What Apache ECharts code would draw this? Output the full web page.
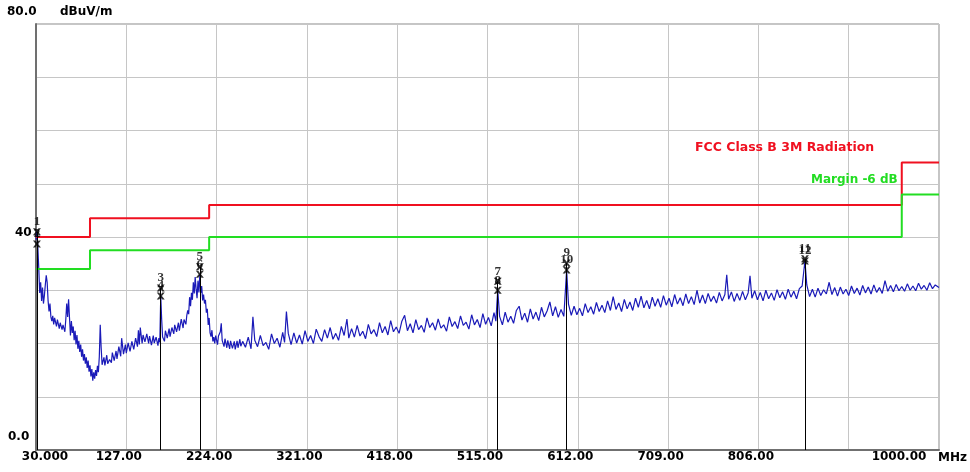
<!DOCTYPE html>
<html><head><meta charset="utf-8">
<script src="https://cdn.jsdelivr.net/npm/echarts@6/dist/echarts.min.js"></script>
<style>html,body{margin:0;padding:0;background:#fff}#c{width:970px;height:472px}</style>
</head><body><div id="c"></div>
<script>
const xTickLabels = ['30.000','127.00','224.00','321.00','418.00','515.00','612.00','709.00','806.00','903.00','1000.00'];
const yTickValues = [0, 40, 80];
const yTickLabels = ['0.0', '40', '80.0'];

const limitFreq   = [30, 88, 216, 960, 1000];
const limitLevel  = [40, 43.5, 46, 54, 54];
const marginLevel = [34, 37.5, 40, 48, 48];

const markerNum   = ['1','2','3','4','5','6','7','8','9','10','11','12'];
const markerFreq  = [31, 31, 164, 164, 206, 206, 526, 526, 600, 600, 856, 856];
const markerLevel = [41.0, 38.7, 30.4, 28.9, 34.4, 33.0, 31.7, 30.0, 35.1, 33.8, 35.9, 35.5];

const traceData = [
[30,39.5],[31,41.0],[32,38],[33,34],[34,29.5],[35,31.5],[36,28],[37,30.5],[38,27.5],[39,29],[40,31],[41,32.8],[42,31.5],[43,28],[44,26],[45,27.5],[46,25],[47,24.2],[48,25.2],[49,23.6],[50,24.8],[52,23.2],[53,24.5],[55,22.8],[56,23.9],[58,22.6],[59,23.5],[61,22.2],[62,24.5],[63,27.5],[64,25],[65,28.3],
[66,24.8],[67,21.5],[68,24.2],[69,22.0],[70,23.2],[71,20.6],[72,22.4],[73,19.8],[74,21.6],[75,19.0],[76,20.5],[77,18.4],[78,19.8],[79,17.5],[80,18.9],[81,16.8],[82,18.0],[83,16.2],[84,17.4],[85,15.4],[86,16.8],[87,14.7],[88,15.9],[89,13.8],[90,15.2],[91,13.0],[92,14.6],[93,13.4],[94,15.0],[95,13.9],[96,15.8],[97,14.6],[98,17.5],[99,23.5],[100,19.2],
[101,16.0],[103,17.4],[104,15.9],[106,17.8],[107,16.2],[109,17.0],[111,16.4],[112,18.3],[114,16.8],[116,18.6],[117,17.1],[119,19.4],[121,17.6],[122,21.0],[124,18.0],[126,19.8],[127,18.2],[129,20.1],[131,18.5],[133,20.4],[135,18.9],[137,21.0],[139,19.4],[140,22.5],[141,19.8],[142,23.0],[144,20.0],[145,21.6],[147,20.3],[149,21.8],[151,20.0],[152,21.4],[154,19.7],[156,21.5],[157,20.1],[159,21.2],[161,19.6],[162,21.0],[163,20.2],[164,28.9],[165,24.5],
[166,21.2],[168,20.4],[169,22.4],[171,21.0],[173,22.8],[174,21.3],[176,23.0],[178,21.8],[179,23.5],[181,22.2],[183,23.9],[184,22.4],[186,24.6],[188,22.9],[189,24.5],[191,23.6],[192,25.3],[193,26.2],[194,25.5],[195,28.7],[196,27],[197,29.5],[198,28.2],[199,31.5],[200,29.4],[201,32.5],[202,30.2],[203,28.5],[204,31.8],[205,29.6],[206,33.0],[207,29.5],[208,30.8],[209,28.1],[210,29.2],[211,27.5],[212,28.2],[213,25.8],[214,26.5],[215,23.5],[216,24.8],[217,22],[218,21.3],[219,22.5],[220,20.4],[221,21.2],[222,20.0],[223,21.5],[225,19.8],[226,21.4],[228,22.2],[229,23.8],[230,20.6],[232,19.4],[233,20.9],[235,19.2],[236,20.6],[238,19.0],[239,20.5],[241,19.1],[243,20.4],[244,18.9],[246,20.5],[247,19.2],[249,20.8],[250,19.5],
[252,20.4],[255,19.3],[258,21.2],[261,19.0],[263,25.0],[265,20.6],[268,19.4],[271,21.5],[274,19.6],[277,20.2],[280,18.9],[283,21.8],[286,20.0],[289,21.0],[292,19.3],[295,22.1],[297,20.2],[299,26.0],[301,21.9],[304,19.8],[307,22.0],[310,20.1],[313,21.6],[316,19.9],[319,22.4],[322,20.4],[325,21.5],[328,20.0],[331,22.7],[334,21.3],[337,20.4],[340,22.6],[343,21.0],[346,23.0],[349,20.8],[352,21.9],[355,20.6],[358,23.2],[361,21.5],[364,24.6],[366,21.0],[369,22.8],[372,21.2],[375,23.4],[378,21.4],[381,22.3],[384,20.9],[387,23.6],[390,21.8],[393,22.6],[396,21.3],[399,23.9],[402,22.0],[405,23.2],[408,21.6],[411,24.3],[414,22.2],[417,23.1],[420,21.9],[423,24.2],[426,25.3],[429,22.4],[432,23.7],[435,22.0],[438,24.5],[441,22.6],[444,23.4],[447,22.1],[450,24.8],[453,23.0],[456,23.9],[459,22.5],[462,24.6],[465,22.9],[468,23.5],[471,22.3],[474,25.0],[477,23.2],[480,24.1],[483,22.8],[486,25.2],[489,23.4],[492,24.0],[495,22.7],[498,25.4],[501,23.5],[504,24.5],[507,23.0],[510,25.6],[513,23.6],[516,24.9],[519,23.3],[522,25.8],[524,24.2],[526,30.0],[528,25.1],[531,23.5],[534,25.9],[537,24.0],[540,25.1],[543,23.8],[546,26.2],[549,27.0],[552,24.4],[555,25.7],[558,24.0],[561,26.5],[564,24.6],[567,25.9],[570,24.3],[573,26.8],[576,25.0],[579,26.1],[582,27.8],[585,25.2],[588,26.9],[591,24.9],[594,26.4],[597,25.1],[600,33.8],[602,27.4],[605,25.3],[608,27.0],[611,25.4],[614,26.6],[617,25.2],[620,27.5],[623,25.8],[626,26.9],[629,25.5],[632,27.7],[635,26.0],[638,27.2],[641,25.8],[644,28.0],[647,26.2],[650,28.8],[653,26.4],[656,27.6],[659,26.0],[662,28.3],[665,26.5],[668,27.8],[671,26.2],[674,28.5],[677,26.8],[680,28.9],[683,26.7],[686,28.1],[689,26.5],[692,28.7],[695,27.0],[698,28.4],[701,26.8],[704,29.0],[707,27.2],[710,28.5],[713,26.9],[716,29.2],[719,27.4],[722,28.6],[725,27.1],[728,29.3],[731,27.5],[734,28.8],[737,27.3],[740,30.0],[743,27.6],[746,29.1],[749,27.5],[752,29.4],[755,27.9],[758,28.9],[761,27.6],[764,29.6],[767,28.0],[770,29.2],[772,32.9],[774,28.3],[777,29.7],[780,27.9],[783,29.4],[786,28.1],[789,29.8],[792,28.2],[795,29.5],[797,32.7],[799,28.5],[802,29.9],[805,28.2],[808,29.6],[811,28.0],[814,30.0],[817,28.4],[820,29.5],[823,28.1],[826,30.1],[829,28.6],[832,29.7],[835,28.3],[838,30.2],[841,28.7],[844,29.8],[847,28.4],[850,30.3],[853,30.8],[856,35.5],[858,31.0],[861,28.8],[864,30.2],[867,28.7],[870,30.4],[873,29.0],[876,30.1],[879,29.3],[882,31.5],[885,29.2],[888,30.5],[891,28.9],[894,30.6],[897,29.3],[900,30.2],[903,29.0],[906,30.8],[909,29.4],[912,30.4],[915,29.1],[918,30.9],[921,29.5],[924,30.6],[927,29.3],[930,31.0],[933,29.6],[936,30.5],[939,29.4],[942,31.8],[945,29.8],[948,30.9],[951,29.7],[954,31.1],[957,29.9],[960,30.7],[963,29.8],[966,31.2],[969,30.0],[972,30.8],[975,29.9],[978,31.3],[981,30.2],[984,30.9],[987,30.0],[990,31.4],[993,30.3],[996,31.0],[1000,30.5]
];

const chart = echarts.init(document.getElementById('c'));
const FONT = 'DejaVu Sans';
const xPos = v => Math.round((v - 30) / 97);

chart.setOption({
  animation: false,
  backgroundColor: '#ffffff',
  grid: { left: 36, right: 31, top: 24, bottom: 22, show: true, borderColor: '#8a8a8a', borderWidth: 1 },
  xAxis: {
    type: 'value', min: 30, max: 1000, interval: 97,
    name: 'MHz', nameLocation: 'end', nameGap: -1,
    nameTextStyle: { fontFamily: FONT, fontWeight: 'bold', fontSize: 12, color: '#000', verticalAlign: 'top', align: 'left', padding: [2, 0, 0, 0] },
    axisLine: { show: true, onZero: false, lineStyle: { color: '#707070', width: 2 } },
    axisTick: { show: false },
    splitLine: { show: true, lineStyle: { color: '#c6c6c6', width: 1 } },
    axisLabel: {
      margin: 1, color: '#000', fontFamily: FONT, fontWeight: 'bold', fontSize: 12,
      formatter: v => {
        const i = xPos(v);
        if (i === 0) return '{m|' + xTickLabels[i] + '}';
        if (i === xTickLabels.length - 1) return '{e|' + xTickLabels[i] + '}';
        return i === 9 ? '' : '{n|' + xTickLabels[i] + '}';
      },
      rich: {
        m: { fontFamily: FONT, fontWeight: 'bold', fontSize: 12, color: '#000', padding: [0, 0, 0, 18] },
        n: { fontFamily: FONT, fontWeight: 'bold', fontSize: 12, color: '#000', padding: [0, 15, 0, 0] },
        e: { fontFamily: FONT, fontWeight: 'bold', fontSize: 12, color: '#000', padding: [0, 80, 0, 0] }
      }
    }
  },
  yAxis: {
    type: 'value', min: 0, max: 80, interval: 10,
    name: 'dBuV/m', nameLocation: 'end', nameGap: 12,
    nameTextStyle: { fontFamily: FONT, fontWeight: 'bold', fontSize: 12, color: '#000', align: 'left', verticalAlign: 'middle', padding: [0, 0, 0, 24] },
    axisLine: { show: true, lineStyle: { color: '#707070', width: 2 } },
    axisTick: { show: false },
    splitLine: { show: true, lineStyle: { color: '#c6c6c6', width: 1 } },
    axisLabel: {
      align: 'left', margin: 29, color: '#000',
      formatter: v => {
        const i = yTickValues.indexOf(v);
        if (i < 0) return '';
        return '{l' + i + '|' + yTickLabels[i] + '}';
      },
      rich: {
        l0: { fontFamily: FONT, fontWeight: 'bold', fontSize: 12, color: '#000', padding: [0, 0, 26, 1] },
        l1: { fontFamily: FONT, fontWeight: 'bold', fontSize: 12, color: '#000', padding: [0, 0, 8, 8] },
        l2: { fontFamily: FONT, fontWeight: 'bold', fontSize: 12, color: '#000', padding: [0, 0, 24, 0] }
      }
    }
  },
  graphic: [
    { type: 'text', left: 695, top: 141, style: { text: 'FCC Class B 3M Radiation', fill: '#f01020', font: 'bold 12.5px "DejaVu Sans"' }, z: 10 },
    { type: 'text', left: 811, top: 174, style: { text: 'Margin -6 dB', fill: '#22dd22', font: 'bold 12px "DejaVu Sans"' }, z: 10 }
  ],
  series: [
    {
      type: 'line', name: 'trace', data: traceData, showSymbol: false, symbol: 'none',
      lineStyle: { color: '#1a1ab8', width: 1.2 }, z: 3, silent: true
    },
    {
      type: 'line', name: 'FCC Class B 3M Radiation', step: 'end',
      data: limitFreq.map((f, i) => [f, limitLevel[i]]), symbol: 'none',
      lineStyle: { color: '#f01020', width: 2 }, z: 4, silent: true
    },
    {
      type: 'line', name: 'Margin -6 dB', step: 'end',
      data: limitFreq.map((f, i) => [f, marginLevel[i]]), symbol: 'none',
      lineStyle: { color: '#22dd22', width: 2 }, z: 4, silent: true
    },
    {
      type: 'scatter', name: 'markers',
      data: markerFreq.map((f, i) => [f, markerLevel[i]]),
      symbol: 'path://M0,0H3L5,3L7,0H10L6.5,5L10,10H7L5,7L3,10H0L3.5,5Z',
      symbolSize: [8, 7],
      itemStyle: { color: '#000' },
      label: {
        show: true, position: 'top', distance: 0,
        formatter: p => markerNum[p.dataIndex],
        fontFamily: 'Liberation Serif', fontWeight: 'bold', fontSize: 13, color: '#000'
      },
      z: 6, silent: true,
      markLine: {
        silent: true, symbol: ['none', 'none'], animation: false,
        label: { show: false },
        lineStyle: { color: '#000', width: 1, type: 'solid' },
        data: markerFreq.map((f, i) => [{ coord: [f, 0] }, { coord: [f, markerLevel[i]] }])
      }
    }
  ]
});
</script>
</body></html>
